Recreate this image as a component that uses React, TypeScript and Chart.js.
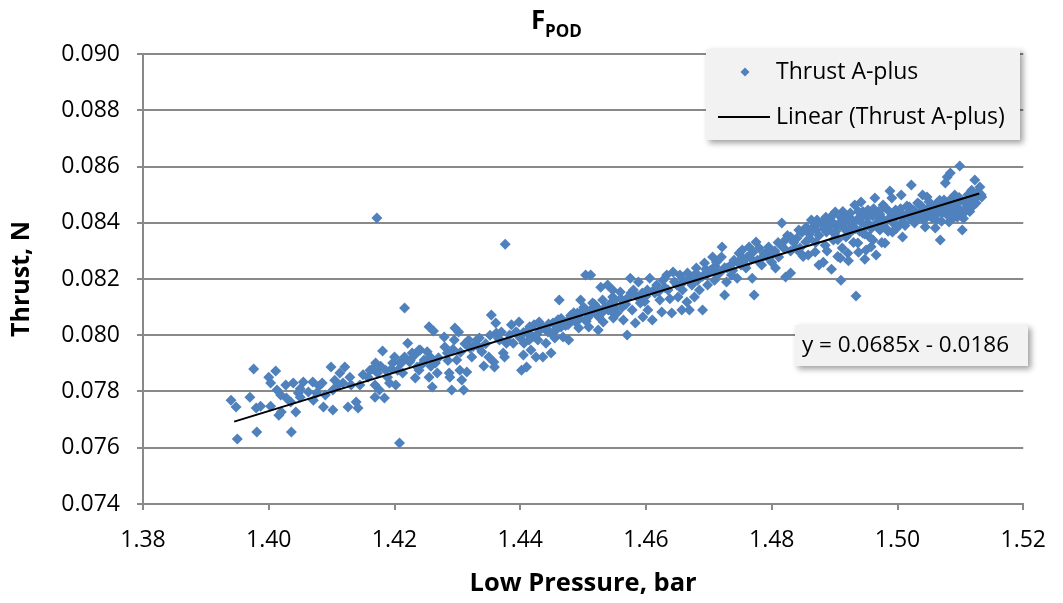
import { useEffect, useRef } from "react";
import { Chart, registerables } from "chart.js";

Chart.register(...registerables);

const titleMain = "F";
const titleSub = "POD";
const xAxisTitle = "Low Pressure, bar";
const yAxisTitle = "Thrust, N";
const seriesName = "Thrust A-plus";
const trendName = "Linear (Thrust A-plus)";
const trendEquation = "y = 0.0685x - 0.0186";

const xMin = 1.38;
const xMax = 1.52;
const xStep = 0.02;
const yMin = 0.074;
const yMax = 0.09;
const yStep = 0.002;

const trendLowPressure = [1.3945, 1.513];
const trendThrust = [0.07693, 0.08504];

// [low pressure (bar), thrust (N)]
const thrustSamples: [number, number][] = [
  [1.394, 0.07769], [1.3948, 0.07745], [1.395, 0.07631], [1.397, 0.0778], [1.3976, 0.0788],
  [1.398, 0.07741], [1.3981, 0.07656], [1.3987, 0.07748], [1.4, 0.07851], [1.4003, 0.07748],
  [1.4011, 0.07873], [1.4003, 0.0783], [1.4013, 0.07805], [1.4016, 0.07716], [1.402, 0.07727],
  [1.4019, 0.07788], [1.4027, 0.07823], [1.4028, 0.07777], [1.4035, 0.07763], [1.4036, 0.07656],
  [1.4039, 0.0783], [1.4043, 0.07727], [1.4047, 0.07795], [1.405, 0.0778], [1.4055, 0.07834],
  [1.4063, 0.07798], [1.407, 0.07834], [1.4071, 0.07769], [1.4076, 0.07795], [1.4085, 0.0783],
  [1.4087, 0.07745], [1.409, 0.07788], [1.4099, 0.07887], [1.4102, 0.07734], [1.4102, 0.07805],
  [1.411, 0.07823], [1.4113, 0.07866], [1.4118, 0.0783], [1.4121, 0.07887], [1.4126, 0.07745],
  [1.4129, 0.07851], [1.4131, 0.07823], [1.4139, 0.07763], [1.4142, 0.07741], [1.4145, 0.07823],
  [1.4158, 0.07851], [1.4161, 0.07876], [1.4169, 0.07823], [1.4169, 0.0778], [1.417, 0.07901],
  [1.4173, 0.07866], [1.4176, 0.07805], [1.4181, 0.07944], [1.4184, 0.07777], [1.4186, 0.07876],
  [1.4189, 0.07851], [1.4192, 0.0783], [1.4197, 0.07901], [1.42, 0.07923], [1.4202, 0.07823],
  [1.4205, 0.07876], [1.4208, 0.07617], [1.4209, 0.07905], [1.4213, 0.07866], [1.4216, 0.07923],
  [1.4221, 0.07972], [1.4224, 0.07905], [1.4228, 0.07937], [1.4233, 0.07848], [1.4236, 0.07887],
  [1.4239, 0.07948], [1.4216, 0.08097], [1.4172, 0.08417], [1.4376, 0.08324],
  [1.415, 0.0786], [1.4165, 0.0788], [1.4178, 0.0789], [1.4195, 0.0788], [1.421, 0.079],
  [1.4225, 0.0791], [1.4232, 0.0793], [1.405, 0.0781], [1.408, 0.0782], [1.4105, 0.0784],
  [1.4241, 0.07948], [1.4247, 0.07912], [1.4239, 0.07876], [1.4252, 0.07941], [1.4257, 0.07923],
  [1.426, 0.07816], [1.4255, 0.07851], [1.4265, 0.07901], [1.4268, 0.07866], [1.4279, 0.07994],
  [1.428, 0.07958], [1.4284, 0.07937], [1.4287, 0.07866], [1.4288, 0.07851], [1.4291, 0.07805],
  [1.4295, 0.07983], [1.4296, 0.08026], [1.4302, 0.08012], [1.4299, 0.07912], [1.4304, 0.07876],
  [1.4307, 0.07841], [1.431, 0.07805], [1.4315, 0.07869], [1.4318, 0.07983], [1.432, 0.07955],
  [1.4323, 0.07923], [1.4331, 0.07983], [1.4334, 0.07958], [1.4339, 0.07941], [1.4342, 0.07891],
  [1.435, 0.07923], [1.4354, 0.08072], [1.4358, 0.07905], [1.4359, 0.07887], [1.4361, 0.08044],
  [1.4362, 0.08008], [1.4367, 0.07983], [1.437, 0.08012], [1.4373, 0.07937], [1.4375, 0.07923],
  [1.4378, 0.07972], [1.4383, 0.08001], [1.4386, 0.08037], [1.4389, 0.07972], [1.4394, 0.08012],
  [1.4398, 0.08047], [1.4402, 0.07876], [1.4405, 0.0793], [1.4406, 0.07972], [1.441, 0.07887],
  [1.4413, 0.08019], [1.4414, 0.07983], [1.4417, 0.07948], [1.4422, 0.08037], [1.4425, 0.07923],
  [1.4428, 0.07983], [1.443, 0.08047], [1.4436, 0.07923], [1.4438, 0.08026], [1.4441, 0.07972],
  [1.4444, 0.08012], [1.4449, 0.07937], [1.4452, 0.08044], [1.4457, 0.08019], [1.4462, 0.08125],
  [1.4465, 0.08029], [1.4468, 0.07994], [1.4469, 0.08047], [1.4476, 0.08037], [1.4477, 0.07983],
  [1.4484, 0.08061], [1.4488, 0.08047], [1.4491, 0.08079], [1.4493, 0.08026], [1.4496, 0.08125],
  [1.4501, 0.081], [1.4504, 0.08214], [1.4512, 0.08214], [1.4507, 0.08061], [1.4509, 0.08029],
  [1.4515, 0.08115], [1.452, 0.08079], [1.4524, 0.08019], [1.4528, 0.08171], [1.4531, 0.08125],
  [1.4532, 0.08047], [1.4539, 0.08179], [1.454, 0.0809], [1.4547, 0.08136], [1.4548, 0.08061],
  [1.4255, 0.0803], [1.4262, 0.08015],
  [1.4245, 0.079], [1.4258, 0.0789], [1.427, 0.0792], [1.4285, 0.0791], [1.4293, 0.0795],
  [1.4305, 0.0794], [1.4312, 0.0797], [1.4325, 0.0796], [1.4335, 0.0799], [1.4345, 0.0797],
  [1.4352, 0.08], [1.4365, 0.0799], [1.438, 0.0798], [1.4392, 0.0801],
  [1.44, 0.0799], [1.441, 0.0801], [1.4425, 0.08], [1.4435, 0.0803], [1.4448, 0.0801],
  [1.4458, 0.0803], [1.4465, 0.0806], [1.4475, 0.0805], [1.4485, 0.0808], [1.4495, 0.0806],
  [1.4502, 0.0809], [1.451, 0.0807], [1.4522, 0.081], [1.453, 0.0808], [1.4542, 0.0811],
  [1.455, 0.081], [1.456, 0.0813], [1.4568, 0.0811], [1.4576, 0.0815], [1.459, 0.0813],
  [1.46, 0.0814], [1.4612, 0.0816],
  [1.4547, 0.08161], [1.4551, 0.08125], [1.4554, 0.08079], [1.4559, 0.08154], [1.4562, 0.081],
  [1.4564, 0.08054], [1.457, 0.08001], [1.4572, 0.08136], [1.4575, 0.08203], [1.4578, 0.0809],
  [1.458, 0.08161], [1.4583, 0.08044], [1.4588, 0.08189], [1.4591, 0.08115], [1.4594, 0.0815],
  [1.4595, 0.08065], [1.4602, 0.08161], [1.4603, 0.0809], [1.4606, 0.08203], [1.461, 0.08054],
  [1.4614, 0.0815], [1.4617, 0.08179], [1.4622, 0.08125], [1.4625, 0.08083], [1.4627, 0.08196],
  [1.4633, 0.08214], [1.4635, 0.08161], [1.4641, 0.08079], [1.4643, 0.08225], [1.4649, 0.08179],
  [1.4651, 0.08136], [1.4654, 0.08214], [1.4657, 0.0809], [1.4658, 0.08161], [1.4665, 0.08118],
  [1.4666, 0.08221], [1.4669, 0.0809], [1.4673, 0.08179], [1.4677, 0.08136], [1.468, 0.08239],
  [1.4682, 0.08196], [1.4685, 0.08161], [1.469, 0.0809], [1.4693, 0.08257], [1.4696, 0.08214],
  [1.4698, 0.08179], [1.4704, 0.08232], [1.4706, 0.08278], [1.4709, 0.08196], [1.4712, 0.0826],
  [1.4717, 0.08221], [1.472, 0.08278], [1.4721, 0.08314], [1.4725, 0.08143], [1.4728, 0.08189],
  [1.4729, 0.08239], [1.4736, 0.08214], [1.474, 0.08267], [1.4745, 0.08203], [1.4748, 0.08292],
  [1.4751, 0.0825], [1.4753, 0.08303], [1.4759, 0.08239], [1.4761, 0.08278], [1.4764, 0.08314],
  [1.4769, 0.08203], [1.4772, 0.08143], [1.4775, 0.08332], [1.4777, 0.08267], [1.478, 0.0831],
  [1.4784, 0.0825], [1.4791, 0.08292], [1.4795, 0.08314], [1.48, 0.0826], [1.4806, 0.08239],
  [1.4811, 0.08278], [1.4816, 0.08399], [1.4819, 0.0831], [1.4822, 0.08207], [1.483, 0.08221],
  [1.483, 0.08349], [1.4838, 0.0831], [1.4843, 0.08374], [1.4846, 0.08292], [1.4854, 0.08332],
  [1.4855, 0.08385],
  [1.463, 0.0817], [1.4645, 0.0819], [1.4655, 0.0818], [1.4668, 0.082], [1.468, 0.0822],
  [1.469, 0.0821], [1.4702, 0.0823], [1.4715, 0.0822], [1.4725, 0.0824], [1.4738, 0.0823],
  [1.4746, 0.0826], [1.4758, 0.0825], [1.4768, 0.0827], [1.4782, 0.0827], [1.4792, 0.0828],
  [1.4802, 0.0829], [1.4815, 0.0832], [1.4822, 0.0834], [1.4835, 0.0833], [1.4845, 0.0831],
  [1.4855, 0.08374], [1.4858, 0.08285], [1.4863, 0.0841], [1.4869, 0.08296], [1.4871, 0.08374],
  [1.4879, 0.08399], [1.4882, 0.0826], [1.4887, 0.08367], [1.4893, 0.08417], [1.4898, 0.08339],
  [1.4901, 0.08438], [1.4903, 0.08385], [1.4909, 0.08275], [1.491, 0.08196], [1.4914, 0.08403],
  [1.4918, 0.08349], [1.4921, 0.08292], [1.4925, 0.08435], [1.4929, 0.08374], [1.4932, 0.08463],
  [1.4934, 0.0814], [1.4937, 0.08328], [1.494, 0.08417], [1.4942, 0.08474], [1.4945, 0.08363],
  [1.495, 0.08303], [1.4953, 0.08445], [1.4956, 0.08392], [1.4961, 0.08339], [1.4964, 0.08488],
  [1.4966, 0.08285], [1.4969, 0.0842], [1.4972, 0.08374], [1.4977, 0.08463], [1.498, 0.08328],
  [1.4984, 0.0841], [1.4988, 0.08513], [1.4991, 0.08488], [1.4992, 0.08367], [1.4997, 0.08445],
  [1.5003, 0.08392], [1.5006, 0.08499], [1.5008, 0.08349], [1.5013, 0.08428], [1.5019, 0.08456],
  [1.5022, 0.08534], [1.5027, 0.08399], [1.5032, 0.0847], [1.5036, 0.08435], [1.504, 0.08499],
  [1.5044, 0.08385], [1.5047, 0.08492], [1.5051, 0.08456], [1.5055, 0.08417], [1.506, 0.08381],
  [1.5063, 0.0847], [1.5068, 0.08339], [1.5071, 0.08435], [1.5074, 0.08481], [1.5076, 0.08541],
  [1.5079, 0.08563], [1.5082, 0.08403], [1.5084, 0.08577], [1.509, 0.08456], [1.5091, 0.08499],
  [1.5095, 0.0842], [1.5099, 0.08602], [1.5103, 0.08374], [1.5106, 0.08474], [1.5107, 0.08438],
  [1.5114, 0.08463], [1.5118, 0.08516], [1.5123, 0.08552], [1.5126, 0.08492], [1.5131, 0.08527],
  [1.5134, 0.08492],
  [1.487, 0.0833], [1.4875, 0.08355], [1.488, 0.08395], [1.4885, 0.0832], [1.489, 0.08375],
  [1.4895, 0.08405], [1.49, 0.0836], [1.4905, 0.0834], [1.491, 0.0842], [1.4915, 0.0838],
  [1.492, 0.08355], [1.4925, 0.08395], [1.493, 0.0833], [1.4935, 0.0841], [1.494, 0.0837],
  [1.4945, 0.0844], [1.495, 0.0839], [1.4955, 0.0835], [1.496, 0.08425], [1.4965, 0.08395],
  [1.497, 0.0844], [1.4975, 0.08385], [1.498, 0.08455], [1.4985, 0.0837], [1.499, 0.0842],
  [1.4995, 0.08395], [1.5, 0.0843], [1.5005, 0.0845], [1.501, 0.084], [1.5015, 0.0846],
  [1.502, 0.0842], [1.5025, 0.08445], [1.503, 0.0841], [1.5035, 0.08465], [1.504, 0.0844],
  [1.5045, 0.0842], [1.505, 0.08475], [1.5055, 0.0845], [1.506, 0.08425], [1.5065, 0.08445],
  [1.507, 0.08405], [1.5075, 0.08465], [1.508, 0.0844], [1.5085, 0.08455], [1.509, 0.0842],
  [1.5095, 0.0847], [1.51, 0.08445], [1.5105, 0.08415], [1.511, 0.0848], [1.5115, 0.0844],
  [1.512, 0.0846], [1.5125, 0.0847],
  [1.486, 0.0836], [1.4868, 0.0839], [1.4872, 0.0841], [1.4883, 0.0838], [1.4886, 0.0842],
  [1.4892, 0.0839], [1.4898, 0.0843], [1.4902, 0.0837], [1.4908, 0.084], [1.4913, 0.0844],
  [1.4918, 0.0842], [1.4923, 0.0837], [1.4928, 0.0841], [1.4933, 0.0838], [1.4938, 0.0844],
  [1.4943, 0.084], [1.4948, 0.0836], [1.4952, 0.0842], [1.4958, 0.0838], [1.4962, 0.0845],
  [1.4967, 0.084], [1.4972, 0.0843], [1.4978, 0.0841], [1.4982, 0.0838], [1.4987, 0.0844],
  [1.4993, 0.0841], [1.4998, 0.0838], [1.5002, 0.0844], [1.5007, 0.0842], [1.5012, 0.0839],
  [1.5017, 0.0843], [1.5023, 0.0841], [1.5028, 0.0844], [1.5033, 0.0842], [1.5038, 0.0846],
  [1.5042, 0.0841], [1.5048, 0.0844], [1.5053, 0.0843], [1.5058, 0.0846], [1.5062, 0.0841],
  [1.5067, 0.0848], [1.5072, 0.0845], [1.5078, 0.0843], [1.5083, 0.0848], [1.5088, 0.0844],
  [1.5093, 0.0846], [1.5098, 0.0849], [1.5102, 0.0843], [1.5108, 0.0845], [1.5112, 0.085],
  [1.5117, 0.0847], [1.5122, 0.0849], [1.5128, 0.0851], [1.5133, 0.085],
  [1.4888, 0.083], [1.4912, 0.0831], [1.4938, 0.08295], [1.4958, 0.08315], [1.4975, 0.0833],
  [1.4948, 0.0827], [1.4922, 0.08265], [1.481, 0.0833], [1.4825, 0.08355], [1.484, 0.08345],
  [1.4848, 0.08365], [1.486, 0.08345], [1.4865, 0.0838], [1.483, 0.083], [1.485, 0.0828],
  [1.4875, 0.0825], [1.4895, 0.08235], [1.4905, 0.0828],
  [1.4405, 0.0801], [1.4415, 0.0803], [1.442, 0.07995], [1.4432, 0.0802], [1.4445, 0.0804],
  [1.4455, 0.0799], [1.446, 0.08055], [1.4472, 0.08035], [1.448, 0.0807], [1.449, 0.0806],
  [1.4498, 0.08085], [1.4505, 0.0805], [1.4512, 0.0809], [1.4518, 0.0811], [1.4525, 0.08065],
  [1.4535, 0.081], [1.4545, 0.08085],
  [1.4565, 0.0812], [1.4585, 0.0814], [1.4598, 0.0812], [1.462, 0.08155], [1.4638, 0.0813],
  [1.466, 0.08195], [1.4675, 0.0821], [1.4695, 0.08235], [1.471, 0.08245], [1.4735, 0.0825],
  [1.4755, 0.0827], [1.477, 0.08295], [1.4788, 0.0829], [1.4805, 0.083],
];

const FONT = '"Open Sans", "Liberation Sans", sans-serif';
const GRID = "#898989";
const BLUE = "#4f81bd";

function drawBox(ctx: CanvasRenderingContext2D, x: number, y: number, w: number, h: number) {
  ctx.save();
  ctx.shadowColor = "rgba(0,0,0,0.38)";
  ctx.shadowBlur = 6;
  ctx.shadowOffsetX = 3;
  ctx.shadowOffsetY = 3;
  ctx.fillStyle = "#f2f2f2";
  ctx.fillRect(x, y, w, h);
  ctx.restore();
}

const overlayPlugin = {
  id: "overlayPlugin",
  afterDraw(chart: any) {
    const ctx: CanvasRenderingContext2D = chart.ctx;
    ctx.save();
    ctx.fillStyle = "#000";
    ctx.textAlign = "left";
    ctx.textBaseline = "alphabetic";
    ctx.font = `bold 26px ${FONT}`;
    ctx.fillText(titleMain, 531, 29);
    ctx.font = `bold 17px ${FONT}`;
    ctx.fillText(titleSub, 545, 37);

    drawBox(ctx, 706, 49, 314, 91);
    ctx.fillStyle = BLUE;
    ctx.beginPath();
    ctx.moveTo(745, 67.5);
    ctx.lineTo(749.5, 72);
    ctx.lineTo(745, 76.5);
    ctx.lineTo(740.5, 72);
    ctx.closePath();
    ctx.fill();
    ctx.strokeStyle = "#000";
    ctx.lineWidth = 2;
    ctx.beginPath();
    ctx.moveTo(718, 117);
    ctx.lineTo(770, 117);
    ctx.stroke();
    ctx.fillStyle = "#000";
    ctx.font = `23px ${FONT}`;
    ctx.textBaseline = "middle";
    ctx.fillText(seriesName, 776, 72);
    ctx.fillText(trendName, 776, 117);

    drawBox(ctx, 795, 325, 233, 41);
    ctx.fillStyle = "#000";
    ctx.font = `22.5px ${FONT}`;
    ctx.fillText(trendEquation, 802, 346);
    ctx.restore();
  },
};

export default function App() {
  const canvasRef = useRef<HTMLCanvasElement | null>(null);

  useEffect(() => {
    const canvas = canvasRef.current;
    if (!canvas) return;
    const chart = new Chart(canvas, {
      type: "scatter",
      data: {
        datasets: [
          {
            label: trendName,
            data: trendLowPressure.map((x, i) => ({ x, y: trendThrust[i] })),
            showLine: true,
            borderColor: "#000",
            borderWidth: 2,
            pointRadius: 0,
            fill: false,
          },
          {
            label: seriesName,
            data: thrustSamples.map(([x, y]) => ({ x, y })),
            pointStyle: "rectRot",
            pointRadius: 5.5,
            backgroundColor: BLUE,
            borderColor: BLUE,
            borderWidth: 0,
          },
        ],
      },
      options: {
        animation: false,
        responsive: false,
        layout: { padding: { top: 54, right: 31, bottom: 0, left: 0 } },
        plugins: {
          legend: { display: false },
          title: { display: false },
          tooltip: { enabled: false },
        },
        scales: {
          x: {
            type: "linear",
            min: xMin,
            max: xMax,
            ticks: {
              stepSize: xStep,
              autoSkip: false,
              maxRotation: 0,
              color: "#000",
              padding: 17,
              font: { family: FONT, size: 23 },
              callback: (v: any) => Number(v).toFixed(2),
            },
            grid: { drawOnChartArea: false, drawTicks: true, tickLength: 6, color: GRID, lineWidth: 2 },
            border: { display: true, color: GRID, width: 2 },
            title: {
              display: true,
              text: xAxisTitle,
              color: "#000",
              font: { family: FONT, size: 25.5, weight: "bold" },
              padding: { top: 0, bottom: 4 },
            },
            afterFit: (s: any) => {
              s.height = 99;
            },
          },
          y: {
            type: "linear",
            min: yMin,
            max: yMax,
            ticks: {
              stepSize: yStep,
              color: "#000",
              padding: 17,
              font: { family: FONT, size: 23 },
              callback: (v: any) => Number(v).toFixed(3),
            },
            grid: { drawTicks: true, tickLength: 6, color: GRID, lineWidth: 2 },
            border: { display: true, color: GRID, width: 2 },
            title: {
              display: true,
              text: yAxisTitle,
              color: "#000",
              font: { family: FONT, size: 25, weight: "bold" },
              padding: { top: 7, bottom: 0 },
            },
            afterFit: (s: any) => {
              s.width = 143;
            },
          },
        },
      },
      plugins: [overlayPlugin],
    });
    return () => chart.destroy();
  }, []);

  return (
    <div style={{ position: "fixed", left: 0, top: 0, width: 1063, height: 603, background: "#fff" }}>
      <canvas ref={canvasRef} width={1063} height={603} style={{ display: "block" }} />
    </div>
  );
}
